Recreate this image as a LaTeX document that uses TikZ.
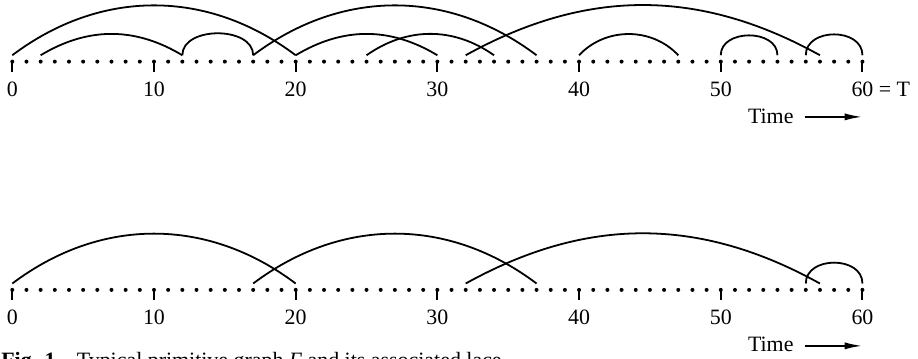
\documentclass[tikz,border=0pt]{standalone}
\usepackage{fontspec}
\setmainfont{Liberation Serif}
\usetikzlibrary{arrows.meta}

\tikzset{
  lacearc/.style={line width=0.9pt},
  axistick/.style={line width=1pt},
  ticklabel/.style={anchor=base},
  timearrow/.style={line width=1pt, -{Latex[length=9pt,width=3.6pt]}, shorten <=2pt},
}

\begin{document}
\begin{tikzpicture}[x=0.25cm, y=0.25cm, font=\fontsize{11}{13}\selectfont]
  \useasboundingbox (-0.868,0) rectangle (63.92,25.33);
  % the two time axes, dots at every step and ticks every ten
  \foreach \g/\y in {up/20.98, lo/4.87} {
    \foreach \i in {0,...,60} {
      \fill (\i,\y) circle (1pt);
      \coordinate (\g\i) at (\i,\y+0.45);
    }
    \foreach \i in {0,10,...,60}
      \draw[axistick] (\i,\y+0.1) -- ++(0,-0.8);
  }
  \foreach \i in {0,10,...,50} {
    \node[ticklabel] (tl\i) at (\i,18.51) {\i};
    \node[ticklabel] (bl\i) at (\i,2.40) {\i};
  }
  \node[ticklabel] (tl60) at (60,18.51) {60\rlap{ = T}};
  \node[ticklabel] (bl60) at (60,2.40) {60};

  % primitive graph
  \foreach \a/\b/\ang/\loose in {0/20/37/1, 2/12/31/1, 12/17/90/1.06, 17/37/37/1,
      20/30/31/1, 25/34/35/1, 32/57/29/1, 40/47/47/1, 50/54/90/1.2, 56/60/90/1.26}
    \draw[lacearc] (up\a) to[bend left=\ang, looseness=\loose] (up\b);

  % associated lace
  \foreach \a/\b/\ang/\loose in {0/20/37/1, 17/37/37/1, 32/57/29/1, 56/60/90/1.26}
    \draw[lacearc] (lo\a) to[bend left=\ang, looseness=\loose] (lo\b);

  % time arrows
  \node[anchor=base east] (ttime) at (55.63,16.63) {Time};
  \coordinate (tarr) at (60,17.08);
  \draw[timearrow] (ttime.east |- tarr) -- (tarr);
  \node[anchor=base east] (btime) at (55.63,0.52) {Time};
  \coordinate (barr) at (60,0.92);
  \draw[timearrow] (btime.east |- barr) -- (barr);

  \node[anchor=base west, inner sep=0pt] (caption) at (-0.80,-0.61)
    {\textbf{Fig. 1.}\hspace{8pt}Typical primitive graph \textit{Γ} and its associated lace};
\end{tikzpicture}
\end{document}
